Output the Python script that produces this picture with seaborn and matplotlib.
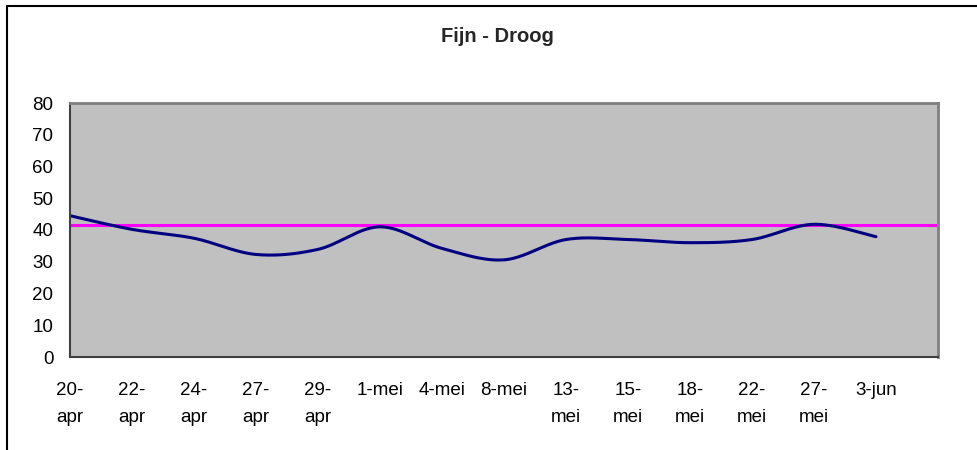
import numpy as np
import pandas as pd
import matplotlib
matplotlib.use("Agg")
import matplotlib.pyplot as plt
from matplotlib.lines import Line2D
import seaborn as sns

sns.set_theme(style="white")
plt.rcParams["font.family"] = ["Liberation Sans", "DejaVu Sans"]

# Measurement dates (categories) and values
categories = ["20-\napr", "22-\napr", "24-\napr", "27-\napr", "29-\napr", "1-mei", "4-mei",
              "8-mei", "13-\nmei", "15-\nmei", "18-\nmei", "22-\nmei", "27-\nmei", "3-jun", ""]
droog = [44.5, 40.2, 37.4, 32.3, 33.9, 41.0, 34.2, 30.6, 37.0, 37.0, 36.0, 37.0, 41.8, 37.9]
norm = [41.7] * 15


def smooth(y, n=30):
    """Catmull-Rom style smoothing as used by spreadsheet 'smoothed line' charts."""
    y = np.asarray(y, float)
    x = np.arange(len(y), dtype=float)
    px = np.concatenate([[x[0]], x, [x[-1]]])
    py = np.concatenate([[y[0]], y, [y[-1]]])
    xs, ys = [], []
    for i in range(1, len(px) - 2):
        p0, p1, p2, p3 = (np.array([px[j], py[j]]) for j in (i - 1, i, i + 1, i + 2))
        c1 = p1 + (p2 - p0) / 6
        c2 = p2 - (p3 - p1) / 6
        t = np.linspace(0, 1, n, endpoint=(i == len(px) - 3))[:, None]
        b = ((1 - t) ** 3) * p1 + 3 * ((1 - t) ** 2) * t * c1 + 3 * (1 - t) * t ** 2 * c2 + t ** 3 * p2
        xs.append(b[:, 0])
        ys.append(b[:, 1])
    return np.concatenate(xs), np.concatenate(ys)


sx, sy = smooth(droog)
curve = pd.DataFrame({"pos": sx, "value": sy})
ref = pd.DataFrame({"pos": np.arange(len(norm)), "value": norm})

fig = plt.figure(figsize=(9.77, 4.5), dpi=100)
ax = fig.add_axes([70 / 977, 1 - 357 / 450, (938 - 70) / 977, (357 - 103) / 450])
ax.set_facecolor("#C0C0C0")

sns.lineplot(data=ref, x="pos", y="value", ax=ax, color="#FF00FF", linewidth=2.2, sort=False)
sns.lineplot(data=curve, x="pos", y="value", ax=ax, color="#000080", linewidth=2.2, sort=False)

ax.set_xlim(0, len(categories) - 1)
ax.set_ylim(0, 80)
ax.set_xticks(np.arange(len(categories)))
ax.set_xticklabels(categories, linespacing=1.75, va="top")
ax.set_yticks(np.arange(0, 81, 10))
ax.set_xlabel("")
ax.set_ylabel("")
ax.tick_params(axis="both", labelsize=13.5, colors="black", direction="out", width=1)
ax.tick_params(axis="y", length=5, pad=7)
ax.tick_params(axis="x", length=5, pad=13)

for side in ("top", "right"):
    ax.spines[side].set_color("#808080")
    ax.spines[side].set_linewidth(2)
for side in ("left", "bottom"):
    ax.spines[side].set_color("#404040")
    ax.spines[side].set_linewidth(1.5)
    ax.spines[side].set_visible(True)

fig.text(497 / 977, 1 - 37 / 450, "Fijn - Droog", ha="center", va="center",
         fontsize=14.5, fontweight="bold")

# Chart area border (left and top edges)
fig.add_artist(Line2D([7 / 977, 7 / 977], [0, 1 - 6 / 450], transform=fig.transFigure,
                      color="black", linewidth=1.5))
fig.add_artist(Line2D([7 / 977, 1], [1 - 6 / 450, 1 - 6 / 450], transform=fig.transFigure,
                      color="black", linewidth=1.5))

fig.savefig("out.png", dpi=100, facecolor="white")
